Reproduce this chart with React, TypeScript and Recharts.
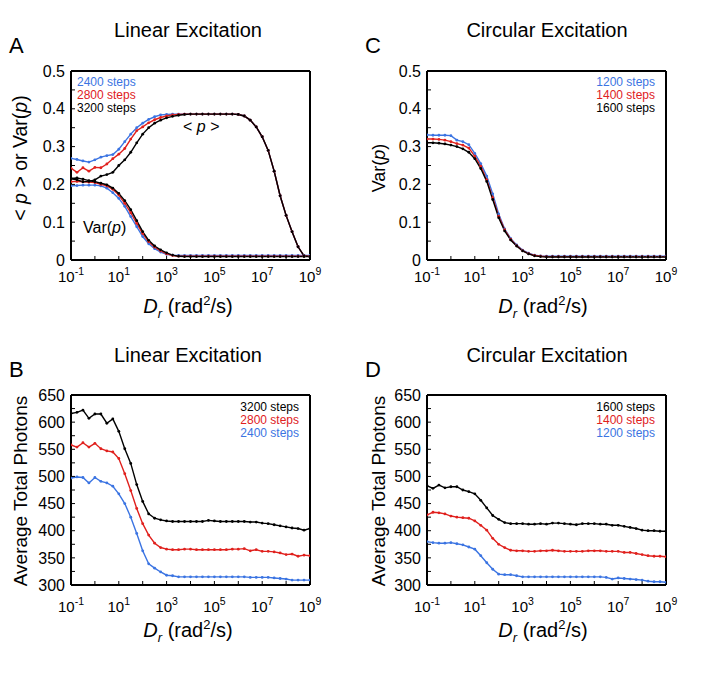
import React from 'react';
import { LineChart, Line, XAxis, YAxis } from 'recharts';

// rotational diffusion constant, 4 points per decade
const drValues = [
  0.1, 0.1778, 0.3162, 0.5623, 1, 1.778, 3.162, 5.623, 10, 17.78, 31.62, 56.23,
  100, 177.8, 316.2, 562.3, 1e3, 1778, 3162, 5623, 1e4, 17783, 31623, 56234,
  1e5, 177828, 316228, 562341, 1e6, 1778279, 3162278, 5623413, 1e7, 17782794,
  31622777, 56234133, 1e8, 177827941, 316227766, 562341325, 1e9,
];

const xTicks = [0.1, 1, 10, 100, 1e3, 1e4, 1e5, 1e6, 1e7, 1e8, 1e9];
const labelledExps = [-1, 1, 3, 5, 7, 9];

const yTicksVar = [0, 0.05, 0.1, 0.15, 0.2, 0.25, 0.3, 0.35, 0.4, 0.45, 0.5];
const yLabelsVar = [0, 0.1, 0.2, 0.3, 0.4, 0.5];
const yTicksPhotons = [300, 325, 350, 375, 400, 425, 450, 475, 500, 525, 550, 575, 600, 625, 650];
const yLabelsPhotons = [300, 350, 400, 450, 500, 550, 600, 650];

// panel A: <p> and Var(p), linear excitation
const pA2400 = [0.269, 0.266, 0.262, 0.259, 0.265, 0.272, 0.276, 0.279, 0.293, 0.313, 0.333, 0.35, 0.362, 0.372, 0.379, 0.384, 0.385, 0.386, 0.386, 0.386, 0.386, 0.386, 0.386, 0.386, 0.386, 0.386, 0.386, 0.386, 0.385, 0.381, 0.37, 0.352, 0.326, 0.29, 0.235, 0.17, 0.118, 0.075, 0.035, 0.011, 0.009];
const pA2800 = [0.243, 0.232, 0.244, 0.235, 0.245, 0.244, 0.254, 0.268, 0.28, 0.295, 0.32, 0.342, 0.352, 0.363, 0.371, 0.377, 0.381, 0.384, 0.385, 0.386, 0.386, 0.386, 0.386, 0.386, 0.386, 0.386, 0.386, 0.386, 0.385, 0.381, 0.37, 0.352, 0.326, 0.29, 0.235, 0.17, 0.118, 0.075, 0.035, 0.011, 0.009];
const pA3200 = [0.215, 0.212, 0.207, 0.208, 0.212, 0.222, 0.226, 0.232, 0.25, 0.265, 0.285, 0.31, 0.333, 0.35, 0.362, 0.37, 0.376, 0.38, 0.383, 0.385, 0.386, 0.386, 0.386, 0.386, 0.386, 0.386, 0.386, 0.386, 0.385, 0.381, 0.37, 0.352, 0.326, 0.29, 0.235, 0.17, 0.118, 0.075, 0.035, 0.011, 0.009];
const varA2400 = [0.196, 0.197, 0.198, 0.198, 0.198, 0.196, 0.19, 0.178, 0.163, 0.142, 0.115, 0.088, 0.062, 0.043, 0.03, 0.021, 0.015, 0.013, 0.012, 0.012, 0.012, 0.012, 0.012, 0.012, 0.012, 0.012, 0.012, 0.012, 0.012, 0.012, 0.012, 0.012, 0.012, 0.012, 0.012, 0.012, 0.012, 0.012, 0.012, 0.012, 0.012];
const varA2800 = [0.207, 0.208, 0.207, 0.206, 0.205, 0.2, 0.196, 0.187, 0.172, 0.15, 0.125, 0.097, 0.07, 0.048, 0.034, 0.024, 0.016, 0.012, 0.01, 0.01, 0.01, 0.01, 0.01, 0.01, 0.01, 0.01, 0.01, 0.01, 0.01, 0.01, 0.01, 0.01, 0.01, 0.01, 0.01, 0.01, 0.01, 0.01, 0.01, 0.01, 0.01];
const varA3200 = [0.216, 0.217, 0.214, 0.21, 0.207, 0.203, 0.199, 0.19, 0.176, 0.157, 0.133, 0.104, 0.075, 0.052, 0.037, 0.027, 0.019, 0.013, 0.01, 0.009, 0.009, 0.009, 0.009, 0.009, 0.009, 0.009, 0.009, 0.009, 0.009, 0.009, 0.009, 0.009, 0.009, 0.009, 0.009, 0.009, 0.009, 0.009, 0.009, 0.009, 0.009];

// panel C: Var(p), circular excitation
const varC1200 = [0.331, 0.33, 0.33, 0.33, 0.329, 0.317, 0.313, 0.305, 0.282, 0.255, 0.222, 0.175, 0.122, 0.082, 0.057, 0.04, 0.026, 0.018, 0.013, 0.011, 0.01, 0.01, 0.01, 0.01, 0.01, 0.01, 0.01, 0.01, 0.01, 0.01, 0.01, 0.01, 0.01, 0.01, 0.01, 0.01, 0.01, 0.01, 0.01, 0.01, 0.01];
const varC1400 = [0.32, 0.32, 0.319, 0.317, 0.313, 0.308, 0.304, 0.296, 0.275, 0.248, 0.212, 0.165, 0.116, 0.08, 0.055, 0.038, 0.025, 0.017, 0.012, 0.01, 0.009, 0.009, 0.009, 0.009, 0.009, 0.009, 0.009, 0.009, 0.009, 0.009, 0.009, 0.009, 0.009, 0.009, 0.009, 0.009, 0.009, 0.009, 0.009, 0.009, 0.009];
const varC1600 = [0.31, 0.31, 0.309, 0.307, 0.304, 0.3, 0.294, 0.285, 0.268, 0.242, 0.208, 0.16, 0.112, 0.077, 0.053, 0.037, 0.024, 0.016, 0.011, 0.009, 0.008, 0.008, 0.008, 0.008, 0.008, 0.008, 0.008, 0.008, 0.008, 0.008, 0.008, 0.008, 0.008, 0.008, 0.008, 0.008, 0.008, 0.008, 0.008, 0.008, 0.008];

// panel B: photons, linear excitation
const photB3200 = [616, 618, 622, 607, 615, 615, 598, 606, 583, 551, 524, 485, 454, 431, 423, 420, 418, 417, 417, 417, 417, 417, 417, 419, 418, 417, 417, 417, 417, 417, 416, 416, 414, 413, 411, 409, 407, 405, 404, 401, 404];
const photB2800 = [558, 554, 562, 554, 561, 551, 547, 545, 533, 505, 474, 441, 413, 392, 377, 369, 366, 365, 365, 366, 366, 365, 365, 365, 365, 365, 365, 366, 366, 367, 363, 365, 362, 362, 361, 359, 356, 357, 353, 355, 354];
const photB2400 = [497, 499, 498, 488, 498, 491, 488, 482, 468, 450, 425, 395, 363, 339, 331, 324, 318, 317, 315, 315, 315, 315, 315, 315, 315, 315, 315, 315, 315, 315, 314, 314, 314, 314, 313, 312, 311, 309, 309, 309, 309];

// panel D: photons, circular excitation
const photD1600 = [483, 478, 484, 479, 481, 481, 475, 472, 468, 456, 442, 428, 421, 415, 413, 413, 413, 412, 412, 413, 412, 414, 414, 413, 412, 411, 413, 413, 413, 412, 412, 410, 410, 408, 406, 404, 401, 400, 400, 399, 399];
const photD1400 = [429, 434, 433, 431, 427, 425, 424, 423, 418, 410, 401, 386, 375, 369, 364, 363, 363, 362, 362, 363, 363, 364, 363, 362, 362, 362, 362, 363, 363, 363, 362, 362, 362, 360, 360, 358, 356, 354, 353, 353, 352];
const photD1200 = [380, 378, 377, 377, 378, 376, 374, 370, 366, 354, 341, 329, 320, 319, 319, 317, 315, 315, 315, 315, 315, 315, 315, 315, 315, 315, 315, 315, 315, 315, 314, 311, 313, 312, 311, 310, 309, 307, 306, 306, 305];

const BLUE = '#3b74e2';
const RED = '#e0201d';
const BLACK = '#000000';
const FONT = '"Liberation Sans", Arial, Helvetica, sans-serif';

type Series = { key: string; color: string; values: number[] };

const DecadeTick = ({ x, y, payload, dy }: any) => {
  const exp = Math.round(Math.log10(payload.value));
  if (!labelledExps.includes(exp)) return null;
  return (
    <text x={x} y={y + dy} textAnchor="middle" fontSize={15} fill="#000" fontFamily={FONT}>
      <tspan>10</tspan>
      <tspan dy={-7} fontSize={10.5}>{exp}</tspan>
    </text>
  );
};

interface PanelProps {
  left: number;
  top: number;
  height: number;
  margin: { top: number; right: number; bottom: number; left: number };
  yDomain: [number, number];
  yTicks: number[];
  yLabels: number[];
  tickDy: number;
  series: Series[];
}

const Panel = ({ left, top, height, margin, yDomain, yTicks, yLabels, tickDy, series }: PanelProps) => {
  const data = drValues.map((dr, i) => {
    const row: Record<string, number> = { dr };
    series.forEach((s) => {
      row[s.key] = s.values[i];
    });
    return row;
  });
  const fmt = (v: number) => {
    if (!yLabels.includes(v)) return '';
    if (v === 0) return '0';
    return v < 1 ? v.toFixed(1) : String(v);
  };
  const frame = { stroke: '#000', strokeWidth: 2 };
  const tickLn = { stroke: '#000', strokeWidth: 1 };
  return (
    <div style={{ position: 'absolute', left, top }}>
      <LineChart width={356} height={height} data={data} margin={margin}>
        <XAxis
          dataKey="dr"
          type="number"
          scale="log"
          domain={[0.1, 1e9]}
          allowDataOverflow
          ticks={xTicks}
          interval={0}
          height={40}
          tickSize={-4}
          tickMargin={4}
          axisLine={frame}
          tickLine={tickLn}
          tick={(p: any) => <DecadeTick {...p} dy={tickDy} />}
        />
        <XAxis
          xAxisId="top"
          orientation="top"
          dataKey="dr"
          type="number"
          scale="log"
          domain={[0.1, 1e9]}
          allowDataOverflow
          ticks={xTicks}
          interval={0}
          height={1}
          tickSize={-4}
          axisLine={frame}
          tickLine={tickLn}
          tick={false}
        />
        <YAxis
          type="number"
          domain={yDomain}
          ticks={yTicks}
          interval={0}
          width={71}
          tickSize={-4}
          tickMargin={10}
          axisLine={frame}
          tickLine={tickLn}
          tickFormatter={fmt}
          tick={{ fontSize: 16, fill: '#000', fontFamily: FONT }}
        />
        <YAxis
          yAxisId="right"
          orientation="right"
          type="number"
          domain={yDomain}
          ticks={yTicks}
          interval={0}
          width={1}
          tickSize={-4}
          axisLine={frame}
          tickLine={tickLn}
          tick={false}
        />
        {series.map((s) => (
          <Line
            key={s.key}
            dataKey={s.key}
            stroke={s.color}
            strokeWidth={1.4}
            dot={{ r: 1.4, fill: s.color, stroke: s.color, strokeWidth: 0 }}
            isAnimationActive={false}
          />
        ))}
      </LineChart>
    </div>
  );
};

const DrTitle = ({ x, y }: { x: number; y: number }) => (
  <text x={x} y={y} textAnchor="middle" fontSize={20}>
    <tspan fontStyle="italic">D</tspan>
    <tspan fontStyle="italic" fontSize={13} dy={5}>r</tspan>
    <tspan dy={-5}> (rad</tspan>
    <tspan fontSize={13} dy={-8}>2</tspan>
    <tspan dy={8}>/s)</tspan>
  </text>
);

const VText = ({ x, y, children, size = 19 }: { x: number; y: number; children: React.ReactNode; size?: number }) => (
  <text x={x} y={y} transform={`rotate(-90, ${x}, ${y})`} textAnchor="middle" fontSize={size}>
    {children}
  </text>
);

const App = () => {
  const topMargin = { top: 70, right: 45, bottom: 30, left: 0 };
  const bottomMargin = { top: 64, right: 45, bottom: 55, left: 0 };
  return (
    <div
      style={{
        position: 'absolute',
        left: 0,
        top: 0,
        width: 712,
        height: 680,
        background: '#fff',
        fontFamily: FONT,
      }}
    >
      <Panel
        left={0}
        top={0}
        height={330}
        margin={topMargin}
        yDomain={[0, 0.5]}
        yTicks={yTicksVar}
        yLabels={yLabelsVar}
        tickDy={22}
        series={[
          { key: 'var2400', color: BLUE, values: varA2400 },
          { key: 'p2400', color: BLUE, values: pA2400 },
          { key: 'var2800', color: RED, values: varA2800 },
          { key: 'p2800', color: RED, values: pA2800 },
          { key: 'var3200', color: BLACK, values: varA3200 },
          { key: 'p3200', color: BLACK, values: pA3200 },
        ]}
      />
      <Panel
        left={356}
        top={0}
        height={330}
        margin={topMargin}
        yDomain={[0, 0.5]}
        yTicks={yTicksVar}
        yLabels={yLabelsVar}
        tickDy={22}
        series={[
          { key: 'v1200', color: BLUE, values: varC1200 },
          { key: 'v1400', color: RED, values: varC1400 },
          { key: 'v1600', color: BLACK, values: varC1600 },
        ]}
      />
      <Panel
        left={0}
        top={330}
        height={350}
        margin={bottomMargin}
        yDomain={[300, 650]}
        yTicks={yTicksPhotons}
        yLabels={yLabelsPhotons}
        tickDy={27}
        series={[
          { key: 's2400', color: BLUE, values: photB2400 },
          { key: 's2800', color: RED, values: photB2800 },
          { key: 's3200', color: BLACK, values: photB3200 },
        ]}
      />
      <Panel
        left={356}
        top={330}
        height={350}
        margin={bottomMargin}
        yDomain={[300, 650]}
        yTicks={yTicksPhotons}
        yLabels={yLabelsPhotons}
        tickDy={27}
        series={[
          { key: 's1200', color: BLUE, values: photD1200 },
          { key: 's1400', color: RED, values: photD1400 },
          { key: 's1600', color: BLACK, values: photD1600 },
        ]}
      />

      <svg
        width={712}
        height={680}
        style={{ position: 'absolute', left: 0, top: 0, pointerEvents: 'none' }}
        fontFamily={FONT}
        fill="#000"
      >
        {/* panel headings */}
        <text x={188} y={37} textAnchor="middle" fontSize={20}>Linear Excitation</text>
        <text x={547} y={37} textAnchor="middle" fontSize={20}>Circular Excitation</text>
        <text x={188} y={362} textAnchor="middle" fontSize={20}>Linear Excitation</text>
        <text x={547} y={362} textAnchor="middle" fontSize={20}>Circular Excitation</text>
        <text x={9} y={53} fontSize={22}>A</text>
        <text x={365} y={53} fontSize={22}>C</text>
        <text x={9} y={377} fontSize={22}>B</text>
        <text x={365} y={377} fontSize={22}>D</text>

        {/* axis titles */}
        <VText x={27} y={158} size={19.5}>
          {'< '}<tspan fontStyle="italic">p</tspan>{' > or Var('}<tspan fontStyle="italic">p</tspan>{')'}
        </VText>
        <VText x={385} y={168} size={18}>
          {'Var('}<tspan fontStyle="italic">p</tspan>{')'}
        </VText>
        <VText x={27} y={491}>Average Total Photons</VText>
        <VText x={385} y={491}>Average Total Photons</VText>
        <DrTitle x={188} y={313} />
        <DrTitle x={543} y={313} />
        <DrTitle x={188} y={637} />
        <DrTitle x={543} y={637} />

        {/* curve labels in A */}
        <text x={183} y={132} fontSize={16}>
          {'< '}<tspan fontStyle="italic">p</tspan>{' >'}
        </text>
        <text x={83} y={233} fontSize={16}>
          {'Var('}<tspan fontStyle="italic">p</tspan>{')'}
        </text>

        {/* legends */}
        <text x={77} y={86} fontSize={12} fill={BLUE}>2400 steps</text>
        <text x={77} y={99} fontSize={12} fill={RED}>2800 steps</text>
        <text x={77} y={112} fontSize={12} fill={BLACK}>3200 steps</text>

        <text x={655} y={86} fontSize={12} fill={BLUE} textAnchor="end">1200 steps</text>
        <text x={655} y={99} fontSize={12} fill={RED} textAnchor="end">1400 steps</text>
        <text x={655} y={112} fontSize={12} fill={BLACK} textAnchor="end">1600 steps</text>

        <text x={299} y={411} fontSize={12} fill={BLACK} textAnchor="end">3200 steps</text>
        <text x={299} y={424} fontSize={12} fill={RED} textAnchor="end">2800 steps</text>
        <text x={299} y={437} fontSize={12} fill={BLUE} textAnchor="end">2400 steps</text>

        <text x={655} y={411} fontSize={12} fill={BLACK} textAnchor="end">1600 steps</text>
        <text x={655} y={424} fontSize={12} fill={RED} textAnchor="end">1400 steps</text>
        <text x={655} y={437} fontSize={12} fill={BLUE} textAnchor="end">1200 steps</text>
      </svg>
    </div>
  );
};

export default App;
